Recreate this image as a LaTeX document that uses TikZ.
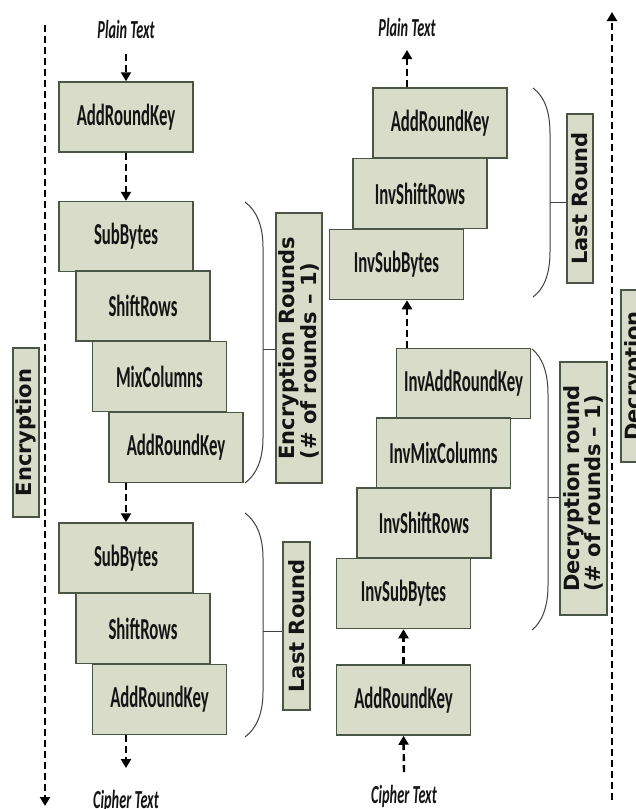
\documentclass[tikz,border=0pt]{standalone}
\usepackage{fontspec}
\usepackage{graphicx}
\usetikzlibrary{arrows.meta}
\newfontfamily\cbfont{Carlito}
\newfontfamily\dvfont{DejaVu Sans}
\definecolor{boxfill}{RGB}{216,220,200}
\definecolor{boxline}{RGB}{75,85,70}
\definecolor{txt}{RGB}{20,20,20}
\newcommand{\bxt}[1]{\scalebox{0.55}[1]{\cbfont\bfseries\fontsize{30.5}{30.5}\selectfont #1}}
\newcommand{\itt}[1]{\scalebox{0.55}[1]{\cbfont\bfseries\itshape\fontsize{26}{26}\selectfont #1}}
\tikzset{
  stepbox/.style={draw=boxline, fill=boxfill, line width=1.5pt, minimum width=134pt, minimum height=70pt, inner sep=0pt, text=txt},
  vlabel/.style={draw=boxline, fill=boxfill, line width=1.5pt, rotate=90, inner sep=0pt, align=left, text=txt, font=\dvfont\bfseries\fontsize{21}{19}\selectfont},
  flow/.style={line width=2.4pt, dash pattern=on 7pt off 4pt, -{Triangle[length=9pt,width=10pt]}},
  brace/.style={line width=1pt, draw=black!75},
  io/.style={inner sep=0pt, text=txt, anchor=base}
}
\begin{document}
\begin{tikzpicture}[x=1pt,y=-1pt]
\useasboundingbox (0,0) rectangle (636,809);
\fill[white] (0,0) rectangle (636,809);

% long dashed direction lines
\coordinate (encTop) at (45,25);
\coordinate (encBot) at (45,806);
\coordinate (decBot) at (612,800);
\coordinate (decTop) at (612,12);
\draw[flow] (encTop) -- (encBot);
\draw[flow] (decBot) -- (decTop);

% side labels
\node[vlabel, minimum width=169pt, minimum height=26pt] (enc) at (26,432.5) {Encryption};
\node[vlabel, minimum width=172pt, minimum height=28pt] (dec) at (635,376) {Decryption};

% ---------- Encryption column ----------
\node[io] (pt1) at (126,38) {\itt{Plain Text}};
\node[stepbox] (ark0) at (126,117) {\bxt{AddRoundKey}};
\node[stepbox] (sb1) at (126,236.5) {\bxt{SubBytes}};
\node[stepbox] (sr1) at (143,306) {\bxt{ShiftRows}};
\node[stepbox] (mc1) at (159.5,376.5) {\bxt{MixColumns}};
\node[stepbox] (ark1) at (176,447.5) {\bxt{AddRoundKey}};
\node[stepbox] (sb2) at (126,558) {\bxt{SubBytes}};
\node[stepbox] (sr2) at (143,628.5) {\bxt{ShiftRows}};
\node[stepbox] (ark2) at (159.5,699.5) {\bxt{AddRoundKey}};
\node[io] (ct1) at (126,808) {\itt{Cipher Text}};

\draw[flow] ([yshift=-16pt]pt1.base) -- (ark0.north);
\draw[flow] (ark0.south) -- (sb1.north);
\draw[flow] (sb2.north |- ark1.south) -- (sb2.north);
\draw[flow] (sb2.north |- ark2.south) -- ([yshift=40pt]ct1.base);

% braces and labels (encryption)
\node[vlabel, minimum width=270pt, minimum height=46pt] (encR) at (299,348) {Encryption Rounds\\(\# of rounds – 1)};
\node[vlabel, minimum width=168pt, minimum height=27pt] (encL) at (296.5,626) {Last Round};
\draw[brace] (245,202) .. controls (256,210) and (263,225) .. (263,247) -- (263,438) .. controls (263,460) and (256,475) .. (245,483);
\coordinate (encRm) at (263,349);
\draw[brace] (encRm) -- (encRm -| encR.north);
\draw[brace] (245,513) .. controls (256,521) and (263,536) .. (263,558) -- (263,692) .. controls (263,714) and (256,729) .. (245,737);
\coordinate (encLm) at (263,631);
\draw[brace] (encLm) -- (encLm -| encL.north);

% ---------- Decryption column ----------
\node[io] (pt2) at (407,36) {\itt{Plain Text}};
\node[stepbox] (dark) at (440,123) {\bxt{AddRoundKey}};
\node[stepbox] (dsr) at (420,193.5) {\bxt{InvShiftRows}};
\node[stepbox] (dsb) at (396.5,264.5) {\bxt{InvSubBytes}};
\node[stepbox] (iark) at (463.5,383.5) {\bxt{InvAddRoundKey}};
\node[stepbox] (imc) at (443.5,453) {\bxt{InvMixColumns}};
\node[stepbox] (isr) at (424,523) {\bxt{InvShiftRows}};
\node[stepbox] (isb) at (403.5,593.5) {\bxt{InvSubBytes}};
\node[stepbox] (ark3) at (403.5,700) {\bxt{AddRoundKey}};
\node[io] (ct2) at (404,803) {\itt{Cipher Text}};

\draw[flow] (pt2.base |- dark.north) -- ([yshift=-14pt]pt2.base);
\draw[flow] (pt2.base |- iark.north) -- (pt2.base |- dsb.south);
\draw[flow] (ark3.north) -- (isb.south);
\draw[flow] ([yshift=31pt]ct2.base) -- (ark3.south);

% braces and labels (decryption)
\node[vlabel, minimum width=169pt, minimum height=26pt] (decL) at (580,198.5) {Last Round};
\node[vlabel, minimum width=253pt, minimum height=47pt] (decR) at (583.5,488.5) {Decryption round\\(\# of rounds – 1)};
\draw[brace] (533,88) .. controls (544,96) and (550,111) .. (550,133) -- (550,252) .. controls (550,274) and (544,289) .. (533,297);
\coordinate (decLm) at (550,202);
\draw[brace] (decLm) -- (decLm -| decL.north);
\draw[brace] (532,349) .. controls (542,357) and (548,372) .. (548,394) -- (548,585) .. controls (548,607) and (542,622) .. (532,630);
\coordinate (decRm) at (548,497);
\draw[brace] (decRm) -- (decRm -| decR.north);
\end{tikzpicture}
\end{document}
